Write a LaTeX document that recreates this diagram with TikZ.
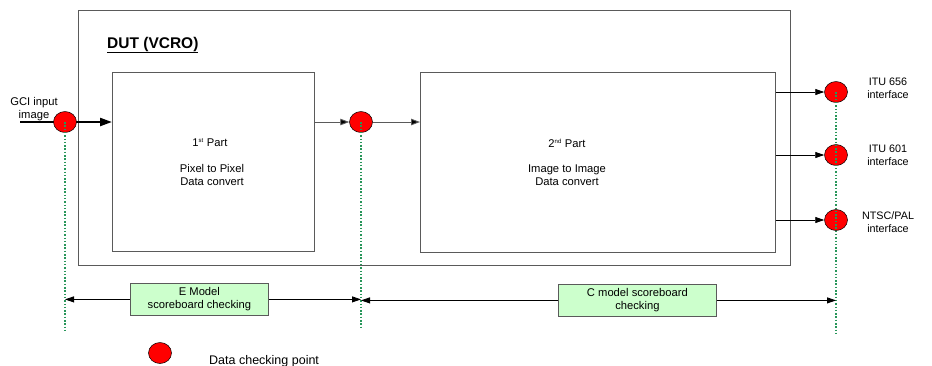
\documentclass[tikz,border=0pt]{standalone}
\usepackage{fontspec}
\setmainfont{Liberation Sans}
\usetikzlibrary{arrows.meta,shapes.geometric}
\definecolor{boxgray}{RGB}{90,90,90}
\definecolor{dotgreen}{RGB}{40,150,90}
\definecolor{lightgreen}{RGB}{204,255,204}
\begin{document}
\begin{tikzpicture}[x=1pt,y=-1pt,
  every node/.style={font=\fontsize{11.2}{13}\selectfont, inner sep=0pt},
  blockbox/.style={draw=boxgray, line width=0.8pt, fill=white},
  chk/.style={ellipse, draw=black, fill=red, minimum width=23pt, minimum height=21pt, line width=0.5pt},
  modelbox/.style={draw=boxgray, fill=lightgreen, line width=0.8pt, align=center, anchor=north west},
  dotline/.style={dotgreen, line width=1.3pt, dash pattern=on 1.5pt off 1.8pt},
  flow/.style={-{Triangle[length=9pt,width=6.5pt,fill=black]}, draw=boxgray, line width=0.9pt},
  sb/.style={-{Triangle[length=9pt,width=6pt]}, draw=black, line width=0.8pt},
  lbl/.style={align=center}
]
\useasboundingbox (0,0) rectangle (932,365);
% outer DUT box
\node[blockbox, minimum width=712pt, minimum height=255pt, anchor=north west] (dut) at (78,10) {};
\node[anchor=base west, font=\fontsize{15.5}{17}\selectfont\bfseries] (duttitle) at (107,48) {\underline{DUT (VCRO)}};
% inner boxes
\node[blockbox, minimum width=202pt, minimum height=179pt, anchor=north west] (p1) at (112,72) {};
\node[blockbox, minimum width=355pt, minimum height=180pt, anchor=north west] (p2) at (420,72) {};
\node[lbl] (p1a) at (210,143) {1\textsuperscript{\fontsize{6}{7}\selectfont st} Part};
\node[lbl] (p1b) at (212,175) {Pixel to Pixel\\Data convert};
\node[lbl] (p2a) at (567,143) {2\textsuperscript{\fontsize{6}{7}\selectfont nd} Part};
\node[lbl] (p2b) at (567,175) {Image to Image\\Data convert};
% input
\coordinate (in) at (20,122);
\node[lbl] (gci) at (34,109) {GCI input\\image};
\draw[-{Triangle[length=12pt,width=8pt]}, line width=2.2pt] (in) -- (p1.west |- in);
% check points
\node[chk] (c1) at (65,122) {};
\node[chk] (c2) at (361,122) {};
\node[chk] (c3) at (836,92) {};
\node[chk] (c4) at (836,155) {};
\node[chk] (c5) at (836,220) {};
% dotted lines
\coordinate (d1b) at (65,333);
\coordinate (d2b) at (361,328);
\coordinate (d3b) at (836,333);
\draw[dotline] (c1.center) -- (d1b);
\draw[dotline] (c2.center) -- (d2b);
\draw[dotline] (c3.center) -- (d3b);
% flows
\draw[flow] (p1.east |- c2) -- (c2.west);
\draw[flow] (c2.east) -- (p2.west |- c2);
\draw[sb] (p2.east |- c3) -- (c3.west);
\draw[sb] (p2.east |- c4) -- (c4.west);
\draw[sb] (p2.east |- c5) -- (c5.west);
% interface labels
\node[lbl, font=\fontsize{10.8}{13}\selectfont] (i1) at (888,88) {ITU 656\\interface};
\node[lbl, font=\fontsize{10.8}{13}\selectfont] (i2) at (888,155) {ITU 601\\interface};
\node[lbl, font=\fontsize{10.8}{13}\selectfont] (i3) at (888,222) {NTSC/PAL\\interface};
% scoreboards
\node[modelbox, minimum width=138pt, minimum height=32pt] (em) at (130,283) {E Model\\scoreboard checking};
\node[modelbox, minimum width=158pt, minimum height=32pt] (cm) at (558,284) {C model scoreboard\\checking};
\draw[sb] (em.west) -- (em.west -| d1b);
\draw[sb] (em.east) -- (em.east -| d2b);
\draw[sb] (cm.west) -- (cm.west -| d2b);
\draw[sb] (cm.east) -- (cm.east -| d3b);
% legend
\node[chk] (leg) at (160,353) {};
\node[anchor=base west, font=\fontsize{12.5}{14}\selectfont] (legt) at (209,364) {Data checking point};
\end{tikzpicture}
\end{document}
